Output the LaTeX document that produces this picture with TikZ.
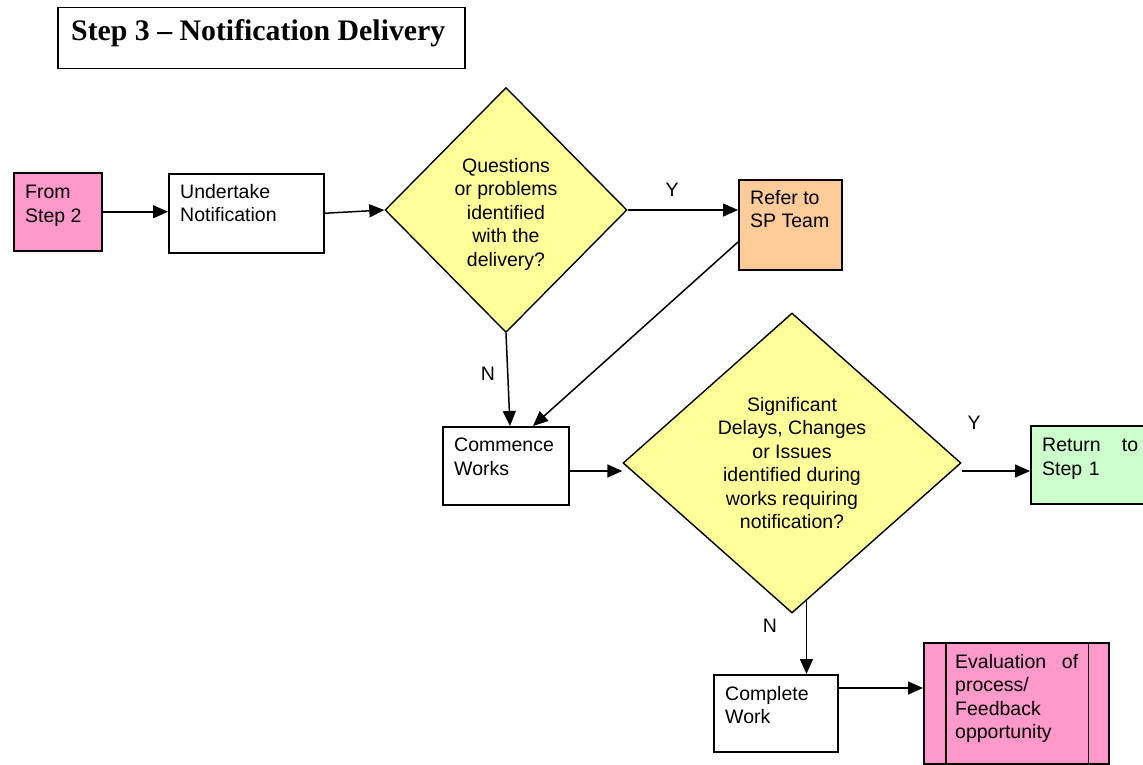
\documentclass[tikz,border=0pt]{standalone}
\usepackage{fontspec}
\setmainfont{Liberation Sans}
\newfontfamily\titlefont{Liberation Serif}
\usetikzlibrary{shapes.geometric,arrows.meta,calc}
\definecolor{pinkfill}{HTML}{FF99CC}
\definecolor{orangefill}{HTML}{FFCC99}
\definecolor{yelfill}{HTML}{FFFF99}
\definecolor{greenfill}{HTML}{CCFFCC}
\begin{document}
\begin{tikzpicture}[x=1pt,y=-1pt,
  box/.style={draw=black, line width=1.5pt, rectangle, inner sep=0pt, anchor=north west},
  dia/.style={draw=black, line width=1.4pt, diamond, fill=yelfill, inner sep=0pt},
  txt/.style={font=\fontsize{19.5}{23.5}\selectfont, align=left, inner sep=0pt, anchor=north west},
  ctxt/.style={font=\fontsize{19.5}{23.5}\selectfont, align=center, inner sep=0pt, anchor=north},
  lbl/.style={font=\fontsize{19.5}{23.5}\selectfont, inner sep=0pt},
  arr/.style={line width=1.5pt, -{Triangle[length=15pt,width=13pt]}}]
\useasboundingbox (0,0) rectangle (1143,765);
\fill[white] (0,0) rectangle (1143,765);

% title
\node[box, minimum width=407pt, minimum height=61pt] (title) at (57,7) {};
\node[anchor=base west, inner sep=0pt, font=\titlefont\bfseries\fontsize{29.8}{34}\selectfont] (titlet) at (71,41) {Step 3 – Notification Delivery};

% boxes
\node[box, fill=pinkfill, minimum width=88pt, minimum height=78pt] (from) at (13,172) {};
\node[txt] (fromt) at (25,185) {From\\Step 2};

\node[box, minimum width=155pt, minimum height=79pt] (und) at (168,173) {};
\node[txt] (undt) at (180,184) {Undertake\\Notification};

\node[box, fill=orangefill, minimum width=103pt, minimum height=90pt] (ref) at (738,179) {};
\node[txt] (reft) at (750,190) {Refer to\\SP Team};

\node[box, minimum width=126pt, minimum height=78pt] (cw) at (442,426) {};
\node[txt] (cwt) at (454,438) {Commence\\Works};

\node[box, fill=greenfill, minimum width=130pt, minimum height=78pt] (ret) at (1030,425) {};
\node[txt, text width=96pt] (rett) at (1042,438) {Return\hfill to\\Step 1};

\node[box, minimum width=124pt, minimum height=77pt] (cpl) at (713,674) {};
\node[txt] (cplt) at (725,686) {Complete\\Work};

\node[box, fill=pinkfill, minimum width=185pt, minimum height=121pt] (ev) at (923,642) {};
\draw[line width=1.5pt] ($(ev.north west)+(23,0)$) -- ($(ev.south west)+(23,0)$);
\draw[line width=1.5pt] ($(ev.north east)+(-21,0)$) -- ($(ev.south east)+(-21,0)$);
\node[txt, text width=123pt] (evt) at (955,654) {Evaluation\hfill of\\process/\\Feedback\\opportunity};

% diamonds
\node[dia, minimum width=242pt, minimum height=245pt] (d1) at (506,210) {};
\node[ctxt] (d1t) at (506,158) {Questions\\or problems\\identified\\with the\\delivery?};

\node[dia, minimum width=338pt, minimum height=300pt] (d2) at (792,463) {};
\node[ctxt] (d2t) at (792,397) {Significant\\Delays, Changes\\or Issues\\identified during\\works requiring\\notification?};

% connectors
\draw[arr] (from.east) -- (from.east -| und.west);
\draw[arr] (und.east) -- (d1.west);
\draw[arr] (d1.east) -- (d1.east -| ref.west);
\coordinate (refout) at ($(ref.north west)+(0,63)$);
\coordinate (cwin1) at ($(cw.north west)+(91,0)$);
\draw[arr] (refout) -- (cwin1);
\coordinate (cwin2) at ($(cw.north west)+(68,0)$);
\draw[arr] (d1.south) -- (cwin2);
\coordinate (cwout) at ($(cw.north east)+(0,45)$);
\draw[arr] (cwout) -- (cwout -| d2.west);
\coordinate (retin) at ($(ret.north west)+(0,46)$);
\draw[arr] (retin -| d2.east) -- (retin);
\draw[arr] (d2.-84.6) -- (d2.-84.6 |- cpl.north);
\coordinate (cplout) at ($(cpl.north east)+(0,14)$);
\draw[arr] (cplout) -- (cplout -| ev.west);

% labels
\node[lbl] (y1) at (672,190) {Y};
\node[lbl] (n1) at (488,374) {N};
\node[lbl] (y2) at (974,423) {Y};
\node[lbl] (n2) at (770,626) {N};
\end{tikzpicture}
\end{document}
